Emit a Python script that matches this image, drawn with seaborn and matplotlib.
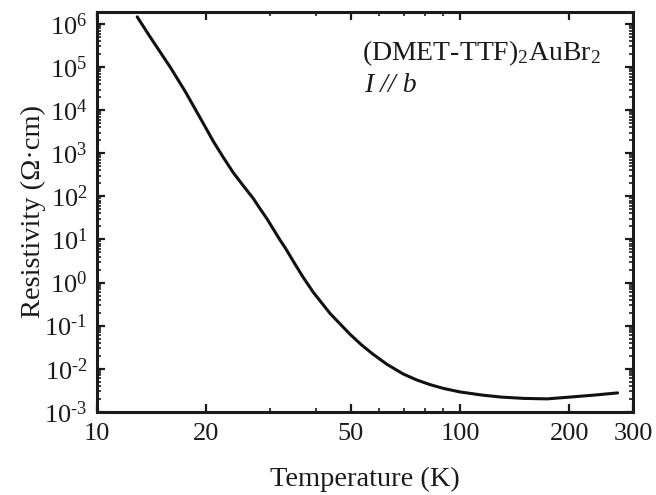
import numpy as np
import pandas as pd
import seaborn as sns
import matplotlib.pyplot as plt
from matplotlib.ticker import FixedLocator, FuncFormatter, LogLocator, NullFormatter

# values
temperature = [12.9, 14.0, 15.9, 17.5, 19.6, 20.9, 22.3, 23.7, 25.3, 26.9, 28.2, 29.4,
               31.9, 33.0, 35.0, 36.9, 39.4, 43.9, 49.8, 53.5, 57.5, 63.0, 69.7, 76.0,
               82.6, 90.0, 100.0, 115.0, 130.0, 150.0, 174.0, 201.0, 235.0, 272.0]
resistivity = [1.46e6, 5.0e5, 1.0e5, 2.7e4, 5.0e3, 1.9e3, 7.9e2, 3.6e2, 1.75e2, 9.1e1,
               5.0e1, 3.0e1, 9.8, 6.4, 2.8, 1.36, 6.0e-1, 1.9e-1, 6.3e-2, 3.6e-2,
               2.2e-2, 1.26e-2, 7.6e-3, 5.5e-3, 4.3e-3, 3.5e-3, 2.9e-3, 2.45e-3,
               2.2e-3, 2.05e-3, 2.0e-3, 2.2e-3, 2.45e-3, 2.75e-3]

x_major = [10, 20, 50, 100, 200, 300]
x_minor = [30, 40, 60, 70, 80, 90]

sns.set_theme(style="ticks")
plt.rcParams.update({
    "font.family": ["Liberation Serif", "DejaVu Serif"],
    "mathtext.fontset": "custom",
    "mathtext.rm": "Liberation Serif",
    "mathtext.it": "Liberation Serif:italic",
    "axes.linewidth": 2.2,
    "axes.edgecolor": "#1a1a1a",
})


def pow10(v, pos):
    n = int(round(np.log10(v)))
    sign = "\u2010" if n < 0 else ""
    return r"$\mathregular{10^{%s%d}}$" % (sign, abs(n))


fig = plt.figure(figsize=(6.56, 4.95), dpi=100)
ax = fig.add_axes([0.148, 0.168, 0.817, 0.808])

df = pd.DataFrame({"T": temperature, "rho": resistivity})
sns.lineplot(data=df, x="T", y="rho", ax=ax, color="#111111", linewidth=2.2)

ax.set_xscale("log")
ax.set_yscale("log")
ax.set_xlim(10, 300)
ax.set_ylim(1e-3, 10 ** 6.28)

ax.xaxis.set_major_locator(FixedLocator(x_major))
ax.xaxis.set_minor_locator(FixedLocator(x_minor))
ax.xaxis.set_major_formatter(FuncFormatter(lambda v, p: f"{v:g}"))
ax.xaxis.set_minor_formatter(NullFormatter())

ax.yaxis.set_major_locator(LogLocator(base=10, numticks=20))
ax.yaxis.set_minor_locator(LogLocator(base=10, subs=np.arange(2, 10), numticks=20))
ax.yaxis.set_major_formatter(FuncFormatter(pow10))
ax.yaxis.set_minor_formatter(NullFormatter())

ax.tick_params(which="both", direction="in", top=True, right=True, colors="#1a1a1a",
               labelsize=19)
ax.tick_params(which="major", length=6, width=1.6)
ax.tick_params(which="minor", length=3, width=1.2)
ax.tick_params(axis="x", which="major", pad=8)
ax.tick_params(axis="y", which="major", pad=7)

ax.set_xlabel("Temperature (K)", fontsize=20.5, labelpad=15.5, color="#1a1a1a")
ax.set_ylabel("Resistivity (Ω·cm)", fontsize=20.5, labelpad=-1, color="#1a1a1a")

ax.text(0.494, 0.88, r"(DMET-TTF)$\mathregular{_2}$AuBr$\mathregular{_2}$",
        transform=ax.transAxes, fontsize=20, va="baseline", color="#1a1a1a")
ax.text(0.498, 0.8, "I // b", transform=ax.transAxes, fontsize=20,
        style="italic", va="baseline", color="#1a1a1a")

fig.savefig("out.png", dpi=100)
